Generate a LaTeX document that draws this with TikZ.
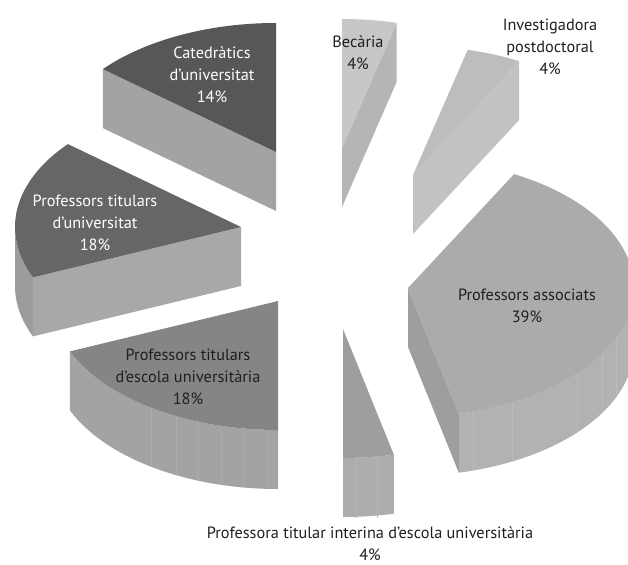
\documentclass[tikz,border=0pt]{standalone}
\usepackage{fontspec}
\setmainfont{PT Sans}
\usetikzlibrary{calc}

% top face, cut face and rim of one slice
\newcommand{\slicetop}[4]{%
  \fill [#4] (#1) -- ++(#2:226pt and 129pt)
    arc [start angle = #2, end angle = #3, x radius = 226pt, y radius = 129pt] -- cycle;}
\newcommand{\sliceside}[3]{%
  \fill [#3] (#1) -- ++(#2:226pt and 129pt) -- ++(0,-59pt) -- ([yshift = -59pt]#1) -- cycle;}
\newcommand{\slicerim}[4]{%
  \fill [#4] (#1) ++(#2:226pt and 129pt)
    arc [start angle = #2, end angle = #3, x radius = 226pt, y radius = 129pt]
    -- ++(0,-59pt)
    arc [start angle = #3, end angle = #2, x radius = 226pt, y radius = 129pt] -- cycle;}

\begin{document}
\begin{tikzpicture}[
    x = 1pt, y = -1pt,
    share/.style = {align = center,
      font = \fontsize{16.3}{21.8}\selectfont,
      text = black!88}
    ]
    \useasboundingbox (0, 0) rectangle (628, 564);
    \clip (0, 0) rectangle (628, 564);

    \coordinate (bec) at (342, 148);
    \coordinate (inv) at (413, 175);
    \coordinate (cat) at (276, 152);
    \coordinate (ptu) at (241, 227);
    \coordinate (ass) at (408, 288);
    \coordinate (pte) at (278, 301);
    \coordinate (pti) at (343, 329);

    \sliceside{bec}{76}{black!29}
    \slicetop{bec}{76}{90}{black!22}
    \sliceside{inv}{62}{black!24}
    \slicetop{inv}{62}{76}{black!26}
    \sliceside{cat}{140}{black!36}
    \slicetop{cat}{90}{140}{black!66}
    \slicerim{ptu}{180}{203}{black!39}
    \sliceside{ptu}{203}{black!34}
    \slicetop{ptu}{140}{203}{black!60}
    \slicerim{ass}{283}{360}{black!30}
    \sliceside{ass}{283}{black!38}
    \slicetop{ass}{283}{422}{black!33}
    \slicerim{pte}{203}{270}{black!36}
    \slicetop{pte}{203}{270}{black!48}
    \slicerim{pti}{270}{283}{black!32}
    \slicetop{pti}{270}{283}{black!38}

    % faint seams on the rims
    \begin{scope}
      \clip (pte) ++(203:226pt and 129pt)
        arc [start angle = 203, end angle = 270, x radius = 226pt, y radius = 129pt]
        -- ++(0,-59pt)
        arc [start angle = 270, end angle = 203, x radius = 226pt, y radius = 129pt] -- cycle;
      \foreach \sx in {151, 176, 198, 221, 243, 267}
        \draw [black!33, thin] (\sx, 380) -- (\sx, 500);
    \end{scope}
    \begin{scope}
      \clip (ass) ++(283:226pt and 129pt)
        arc [start angle = 283, end angle = 360, x radius = 226pt, y radius = 129pt]
        -- ++(0,-59pt)
        arc [start angle = 360, end angle = 283, x radius = 226pt, y radius = 129pt] -- cycle;
      \foreach \sx in {473, 512, 577, 602, 616}
        \draw [black!27, thin] (\sx, 280) -- (\sx, 480);
    \end{scope}
    \foreach \sx in {356, 377}
      \draw [black!29, thin] (\sx, 457) -- (\sx, 518);

    \node at (212, 75) [share, text = white, name = catlabel]
      {Catedràtics\\d’universitat\\14\%};
    \node at (95, 223) [share, text = white, name = ptulabel]
      {Professors titulars\\d’universitat\\18\%};
    \node at (188, 377) [share, name = ptelabel]
      {Professors titulars\\d’escola universitària\\18\%};
    \node at (358, 53) [share, name = beclabel] {Becària\\4\%};
    \node at (550, 47) [share, name = invlabel]
      {Investigadora\\postdoctoral\\4\%};
    \node at (527, 306) [share, name = asslabel] {Professors associats\\39\%};
    \node at (370, 544) [share, name = ptilabel]
      {Professora titular interina d’escola universitària\\4\%};
\end{tikzpicture}
\end{document}
